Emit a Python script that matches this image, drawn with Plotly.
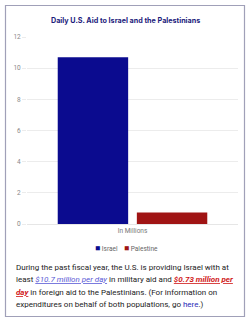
import plotly.graph_objects as go

categories = ["In Millions"]
series_names = ["Israel", "Palestine"]
israel_values = [10.7]
palestine_values = [0.73]
series_colors = ["#0b0b8f", "#a01414"]
y_ticks = [0, 2, 4, 6, 8, 10, 12]

W, H = 250, 322
L, R, T, B = 27, 12, 37, 98
pw, ph = W - L - R, H - T - B

def px_x(x):
    return (x - L) / pw

def px_y(y):
    return (H - B - y) / ph

fig = go.Figure()
fig.add_trace(go.Bar(name=series_names[0], x=categories, y=israel_values,
                     marker=dict(color=series_colors[0], line=dict(width=0))))
fig.add_trace(go.Bar(name=series_names[1], x=categories, y=palestine_values,
                     marker=dict(color=series_colors[1], line=dict(width=0))))

BLUE = "<span style='color:#5a5ad6'><i><u>%s</u></i></span>"
RED = "<span style='color:#d01818'><b><i><u>%s</u></i></b></span>"
body_lines = [
    "During the past fiscal year, the U.S. is providing Israel with at",
    "least " + BLUE % "$10.7 million per day" + " in military aid and " + RED % "$0.73 million per",
    RED % "day" + " in foreign aid to the Palestinians. (For information on",
    "expenditures on behalf of both populations, go <span style='color:#2a2ab8'>here</span>.)",
]
line_y = [267, 279.5, 292, 304.5]

annotations = [
    dict(text="<b>Daily U.S. Aid to Israel and the Palestinians</b>", xref="paper", yref="paper",
         x=px_x(125), y=px_y(20), xanchor="center", yanchor="middle", showarrow=False,
         font=dict(family="Inter", size=7.2, color="#1c1c7c")),
]
for txt, yy in zip(body_lines, line_y):
    annotations.append(dict(text=txt, xref="paper", yref="paper", x=px_x(13.5), y=px_y(yy),
                            xanchor="left", yanchor="middle", align="left", showarrow=False,
                            font=dict(family="Roboto", size=8.0, color="#222")))

# legend entries
legend_x = [93, 122]
for name, col, lx in zip(series_names, series_colors, legend_x):
    annotations.append(dict(text="<span style='color:%s;font-size:8.5px'>■</span> %s" % (col, name),
                            xref="paper", yref="paper", x=px_x(lx), y=px_y(248),
                            xanchor="left", yanchor="middle", showarrow=False,
                            font=dict(family="Roboto", size=6.5, color="#666")))

fig.update_layout(
    width=W, height=H,
    margin=dict(l=L, r=R, t=T, b=B, pad=0),
    paper_bgcolor="white", plot_bgcolor="white",
    barmode="group", bargap=0.25, bargroupgap=0.11,
    showlegend=False,
    xaxis=dict(showgrid=False, showline=True, linecolor="#e6e6e6", ticks="",
               tickfont=dict(family="Roboto", size=6.5, color="#777")),
    yaxis=dict(range=[0, 12], tickvals=y_ticks, showgrid=True, gridcolor="#ececec",
               gridwidth=1, zeroline=False, ticks="outside", ticklen=4, tickcolor="#ececec",
               tickfont=dict(family="Roboto", size=6.5, color="#888")),
    font=dict(family="Roboto"),
    shapes=[dict(type="rect", xref="paper", yref="paper",
                 x0=px_x(5.5), x1=px_x(244.5), y0=px_y(316.5), y1=px_y(5.5),
                 line=dict(color="#a0a0b8", width=1.2), fillcolor="rgba(0,0,0,0)", layer="below")],
    annotations=annotations,
)

fig.write_html("out.html")
